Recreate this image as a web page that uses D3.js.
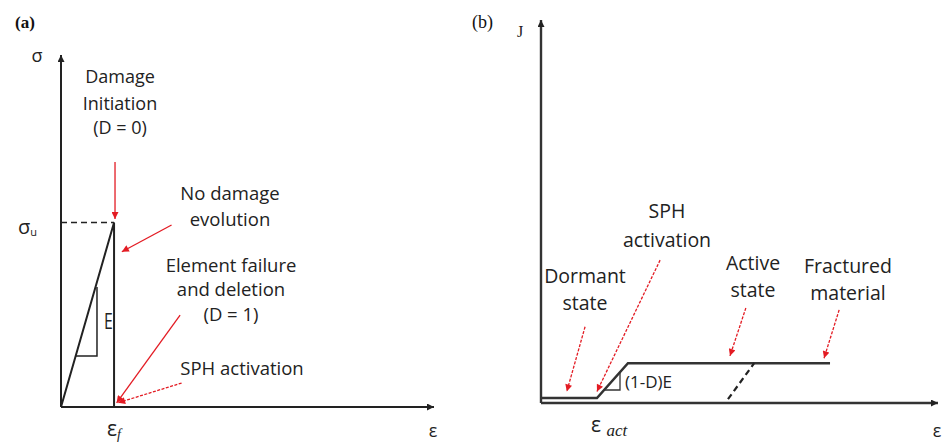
<!DOCTYPE html>
<html><head><meta charset="utf-8">
<script src="https://cdn.jsdelivr.net/npm/d3@7"></script>
<style>
html,body{margin:0;padding:0;background:#fff;}
svg{display:block;}
.lbl{font-family:"Open Sans",sans-serif;fill:#222;}
</style></head>
<body><svg id="c" width="947" height="443"></svg>
<script>
// ---------- data (normalised strain / stress units) ----------
// Panel (a): stress-strain with instant failure
const aCurve = [[0,0],[0.143,0.524],[0.143,0]];
const aSigmaU = 0.524;
const aEpsF = 0.143;
const aSlopeTri = [[0.040,0.145],[0.097,0.145],[0.097,0.341]];
const aArrows = [
  {from:[0.1456,0.696], to:[0.1456,0.534], dashed:false},
  {from:[0.298,0.517], to:[0.164,0.441], dashed:false},
  {from:[0.321,0.261], to:[0.150,0.012], dashed:false},
  {from:[0.325,0.068], to:[0.154,0.012], dashed:true}
];
const aLabels = [["Damage","Initiation","(D = 0)"],["No damage","evolution"],["Element failure","and deletion","(D = 1)"],["SPH activation"]];
// Panel (b): SPH particle behaviour
const bCurve = [[0,0.013],[0.141,0.013],[0.219,0.104],[0.728,0.104]];
const bUnload = [[0.471,0.010],[0.537,0.104]];
const bSlopeTri = [[0.159,0.034],[0.199,0.034],[0.199,0.081]];
const bEpsAct = 0.141;
const bArrows = [
  {from:[0.111,0.199], to:[0.065,0.030]},
  {from:[0.300,0.373], to:[0.141,0.030]},
  {from:[0.516,0.248], to:[0.476,0.123]},
  {from:[0.751,0.243], to:[0.713,0.117]}
];
const bLabels = [["Dormant","state"],["SPH","activation"],["Active","state"],["Fractured","material"]];

// ---------- drawing ----------
const svg = d3.select("#c");
const defs = svg.append("defs");
function marker(id, color, w, h){
  defs.append("marker").attr("id",id).attr("markerUnits","userSpaceOnUse")
    .attr("viewBox","0 0 10 10").attr("refX",10).attr("refY",5)
    .attr("markerWidth",w).attr("markerHeight",h).attr("orient","auto")
    .append("path").attr("d","M0,0L10,5L0,10Z").attr("fill",color);
}
marker("ak","#222",9,7);
marker("ar","#e31b23",8,7);

const line = (x,y)=>d3.line().x(d=>x(d[0])).y(d=>y(d[1]));

// ---- Panel (a)
const xA = d3.scaleLinear().domain([0,1]).range([61,432]);
const yA = d3.scaleLinear().domain([0,1]).range([407,55]);
const gA = svg.append("g");
gA.append("line").attr("x1",xA(0)).attr("y1",yA(0)).attr("x2",xA(0)).attr("y2",yA(1))
  .attr("stroke","#222").attr("stroke-width",2).attr("marker-end","url(#ak)");
gA.append("line").attr("x1",xA(0)).attr("y1",yA(0)).attr("x2",xA(1)+2).attr("y2",yA(0))
  .attr("stroke","#222").attr("stroke-width",2).attr("marker-end","url(#ak)");
gA.append("line").attr("x1",xA(0)).attr("x2",xA(aEpsF)).attr("y1",yA(aSigmaU)).attr("y2",yA(aSigmaU))
  .attr("stroke","#222").attr("stroke-width",1.6).attr("stroke-dasharray","6,4");
gA.append("path").attr("d",line(xA,yA)(aCurve)).attr("fill","none").attr("stroke","#222").attr("stroke-width",2);
gA.append("path").attr("d",line(xA,yA)(aSlopeTri)).attr("fill","none").attr("stroke","#222").attr("stroke-width",1.5);
aArrows.forEach(a=>{
  gA.append("line").attr("x1",xA(a.from[0])).attr("y1",yA(a.from[1]))
    .attr("x2",xA(a.to[0])).attr("y2",yA(a.to[1]))
    .attr("stroke","#e31b23").attr("stroke-width",1.3)
    .attr("stroke-dasharray",a.dashed?"3,1.5":null).attr("marker-end","url(#ar)");
});
const fA = 18.5;
function block(g, lines, cx, baselines, size){
  lines.forEach((t,i)=>g.append("text").attr("class","lbl").attr("x",cx).attr("y",baselines[i])
    .attr("text-anchor","middle").attr("font-size",size).text(t));
}
block(gA, aLabels[0], 120, [83,110,134], 18);
block(gA, aLabels[1], 230, [200,226], fA);
block(gA, aLabels[2], 231, [272,296,321], fA);
block(gA, aLabels[3], 242, [375], fA);
gA.append("text").attr("class","lbl").attr("text-anchor","middle")
  .attr("transform",`translate(108.5,${yA(0.225)+1}) scale(0.72,1)`)
  .attr("font-size",22).text("E");
gA.append("text").attr("x",15).attr("y",28).attr("font-family","Liberation Serif,serif")
  .attr("font-weight","bold").attr("font-size",17).attr("fill","#111").text("(a)");
gA.append("text").attr("class","lbl").attr("x",37).attr("y",62).attr("text-anchor","middle")
  .attr("font-size",18).text("σ");
const su = gA.append("text").attr("class","lbl").attr("x",18).attr("y",yA(aSigmaU)+11).attr("font-size",20);
su.append("tspan").text("σ");
su.append("tspan").attr("font-size",11).attr("dy",2).text("u");
const ef = gA.append("text").attr("class","lbl").attr("x",xA(aEpsF)).attr("y",436).attr("text-anchor","middle").attr("font-size",21);
ef.append("tspan").text("ε");
ef.append("tspan").attr("font-size",14).attr("font-style","italic").attr("font-family","Liberation Serif,serif").attr("dy",3).text("f");
gA.append("text").attr("class","lbl").attr("x",433).attr("y",437).attr("text-anchor","middle").attr("font-size",18).text("ε");

// ---- Panel (b)
const xB = d3.scaleLinear().domain([0,1]).range([541,938]);
const yB = d3.scaleLinear().domain([0,1]).range([403,20]);
const gB = svg.append("g");
gB.append("line").attr("x1",xB(0)).attr("y1",yB(0)).attr("x2",xB(0)).attr("y2",yB(1))
  .attr("stroke","#333").attr("stroke-width",2.4).attr("marker-end","url(#ak)");
gB.append("line").attr("x1",xB(0)).attr("y1",yB(0)).attr("x2",xB(1)).attr("y2",yB(0))
  .attr("stroke","#333").attr("stroke-width",2.4).attr("marker-end","url(#ak)");
gB.append("path").attr("d",line(xB,yB)(bCurve)).attr("fill","none").attr("stroke","#333").attr("stroke-width",2.5);
gB.append("path").attr("d",line(xB,yB)(bUnload)).attr("fill","none").attr("stroke","#222").attr("stroke-width",2.2).attr("stroke-dasharray","6,4");
gB.append("path").attr("d",line(xB,yB)(bSlopeTri)).attr("fill","none").attr("stroke","#333").attr("stroke-width",1.3);
bArrows.forEach(a=>{
  gB.append("line").attr("x1",xB(a.from[0])).attr("y1",yB(a.from[1]))
    .attr("x2",xB(a.to[0])).attr("y2",yB(a.to[1]))
    .attr("stroke","#e31b23").attr("stroke-width",1.3)
    .attr("stroke-dasharray","3,1.5").attr("marker-end","url(#ar)");
});
const fB = 19.5;
block(gB, bLabels[0], 585, [283,310], fB);
block(gB, bLabels[1], 667, [218,247], fB);
block(gB, bLabels[2], 753, [270,297], fB);
block(gB, bLabels[3], 848, [273,300], fB);
gB.append("text").attr("class","lbl").attr("x",625).attr("y",388).attr("font-size",17).text("(1-D)E");
gB.append("text").attr("x",472).attr("y",28).attr("font-family","Liberation Serif,serif")
  .attr("font-size",18).attr("fill","#111").text("(b)");
gB.append("text").attr("x",520).attr("y",37).attr("text-anchor","middle").attr("font-family","Liberation Serif,serif")
  .attr("font-size",16).attr("fill","#222").text("J");
const ea = gB.append("text").attr("x",xB(bEpsAct)-6).attr("y",432).attr("text-anchor","start").attr("fill","#222");
ea.append("tspan").attr("font-family","Open Sans,sans-serif").attr("font-size",21).text("ε ");
ea.append("tspan").attr("font-family","Liberation Serif,serif").attr("font-style","italic").attr("font-size",17).attr("dy",4).text("act");
gB.append("text").attr("class","lbl").attr("x",937).attr("y",437).attr("text-anchor","middle").attr("font-size",18).text("ε");
</script></body></html>
